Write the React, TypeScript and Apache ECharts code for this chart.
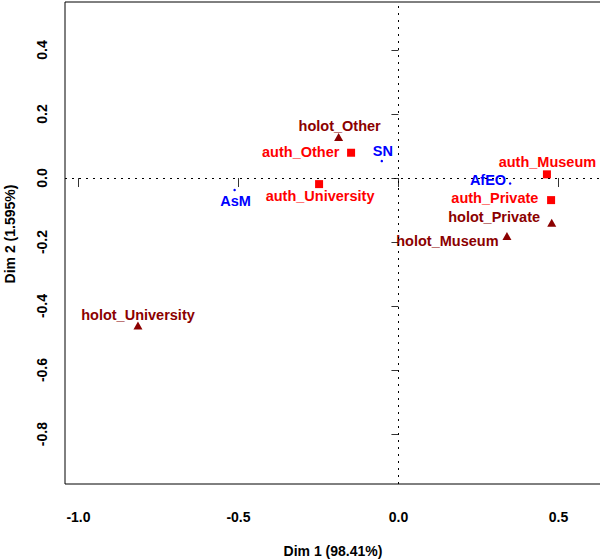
import React, { useEffect, useRef } from "react";
import * as echarts from "echarts";

// Row points: authors (squares)
const authNames = ["auth_Other", "auth_University", "auth_Museum", "auth_Private"];
const authX = [-0.148, -0.248, 0.464, 0.477];
const authY = [0.079, -0.019, 0.0115, -0.069];

// Row points: holotypes (triangles)
const holotNames = ["holot_Other", "holot_University", "holot_Museum", "holot_Private"];
const holotX = [-0.187, -0.814, 0.339, 0.479];
const holotY = [0.128, -0.461, -0.181, -0.14];

// Column points (blue dots)
const colNames = ["SN", "AsM", "AfEO"];
const colX = [-0.052, -0.512, 0.349];
const colY = [0.053, -0.0375, -0.017];

const xTicks = [-1.0, -0.5, 0.0, 0.5];
const yTicks = [-0.8, -0.6, -0.4, -0.2, 0.0, 0.2, 0.4];

const xTitle = "Dim 1 (98.41%)";
const yTitle = "Dim 2 (1.595%)";

// label placement (layout only): [dx, dy, align]
const labelPlace: Record<string, [number, number, string]> = {
  auth_Other: [-11.7, -1, "right"],
  auth_University: [1, 12, "center"],
  auth_Museum: [0.5, -12.6, "center"],
  auth_Private: [-12.7, -2, "right"],
  holot_Other: [1, -11, "center"],
  holot_University: [0, -11, "center"],
  holot_Museum: [-8.4, 5, "right"],
  holot_Private: [-11.7, -6, "right"],
  SN: [1, -10, "center"],
  AsM: [1, 11, "center"],
  AfEO: [-4, -3, "right"],
};

const FONT = "'Liberation Sans', Arial, Helvetica, sans-serif";

function buildData(names: string[], xs: number[], ys: number[], color: string) {
  return names.map((n, i) => {
    const p = labelPlace[n];
    return {
      name: n,
      value: [xs[i], ys[i]],
      label: {
        show: true,
        formatter: n,
        position: "inside",
        offset: [p[0], p[1]],
        align: p[2],
        verticalAlign: "middle",
        color,
        opacity: 1,
        fontWeight: "bold",
        fontSize: 14.5,
        fontFamily: FONT,
      },
    };
  });
}

export default function App() {
  const ref = useRef<HTMLDivElement>(null);
  useEffect(() => {
    document.body.style.margin = "0";
    const chart = echarts.init(ref.current!, null, { renderer: "svg" });
    const RED = "#FF0000";
    const DARK = "#8B0000";
    const BLUE = "#0000FF";
    chart.setOption({
      animation: false,
      backgroundColor: "#ffffff",
      grid: {
        left: 65,
        top: 2,
        bottom: 75,
        right: -10,
        show: true,
        borderColor: "#000",
        borderWidth: 1,
        containLabel: false,
        outerBoundsMode: "none",
      },
      xAxis: {
        type: "value",
        min: -1.042,
        max: 0.6611,
        axisLine: { show: false },
        splitLine: { show: false },
        axisTick: {
          show: true,
          length: 9,
          inside: false,
          customValues: xTicks,
          lineStyle: { color: "#333" },
        },
        axisLabel: {
          show: true,
          customValues: xTicks,
          margin: 26,
          formatter: (v: number) => v.toFixed(1),
          color: "#000",
          fontWeight: "bold",
          fontSize: 14,
          fontFamily: FONT,
        },
      },
      yAxis: {
        type: "value",
        min: -0.956,
        max: 0.55,
        axisLine: { show: false },
        splitLine: { show: false },
        axisTick: {
          show: true,
          length: 7,
          inside: false,
          customValues: yTicks,
          lineStyle: { color: "#333" },
        },
        axisLabel: {
          show: true,
          customValues: yTicks,
          rotate: 90,
          margin: 16,
          formatter: (v: number) => v.toFixed(1),
          color: "#000",
          fontWeight: "bold",
          fontSize: 14,
          fontFamily: FONT,
        },
      },
      graphic: [
        {
          type: "text",
          x: 333,
          y: 550.5,
          style: {
            text: xTitle,
            fill: "#000",
            font: `bold 14px ${FONT}`,
            align: "center",
            verticalAlign: "middle",
          },
        },
        {
          type: "text",
          x: 10,
          y: 234,
          rotation: Math.PI / 2,
          style: {
            text: yTitle,
            fill: "#000",
            font: `bold 14px ${FONT}`,
            align: "center",
            verticalAlign: "middle",
          },
        },
      ],
      series: [
        {
          type: "scatter",
          name: "auth",
          symbol: "rect",
          symbolSize: 8,
          itemStyle: { color: RED, opacity: 1 },
          data: buildData(authNames, authX, authY, RED),
          markLine: {
            silent: true,
            symbol: "none",
            label: { show: false },
            lineStyle: { color: "#000", type: [2, 5], width: 1, opacity: 1 },
            data: [{ xAxis: 0 }, { yAxis: 0 }],
          },
          z: 3,
        },
        {
          type: "scatter",
          name: "holot",
          symbol: "triangle",
          symbolSize: [9, 8],
          itemStyle: { color: DARK, opacity: 1 },
          data: buildData(holotNames, holotX, holotY, DARK),
          z: 3,
        },
        {
          type: "scatter",
          name: "cols",
          symbol: "circle",
          symbolSize: 2.5,
          itemStyle: { color: BLUE, opacity: 1 },
          data: buildData(colNames, colX, colY, BLUE),
          z: 3,
        },
      ],
    });
    return () => chart.dispose();
  }, []);
  return <div ref={ref} style={{ width: 600, height: 559 }} />;
}
